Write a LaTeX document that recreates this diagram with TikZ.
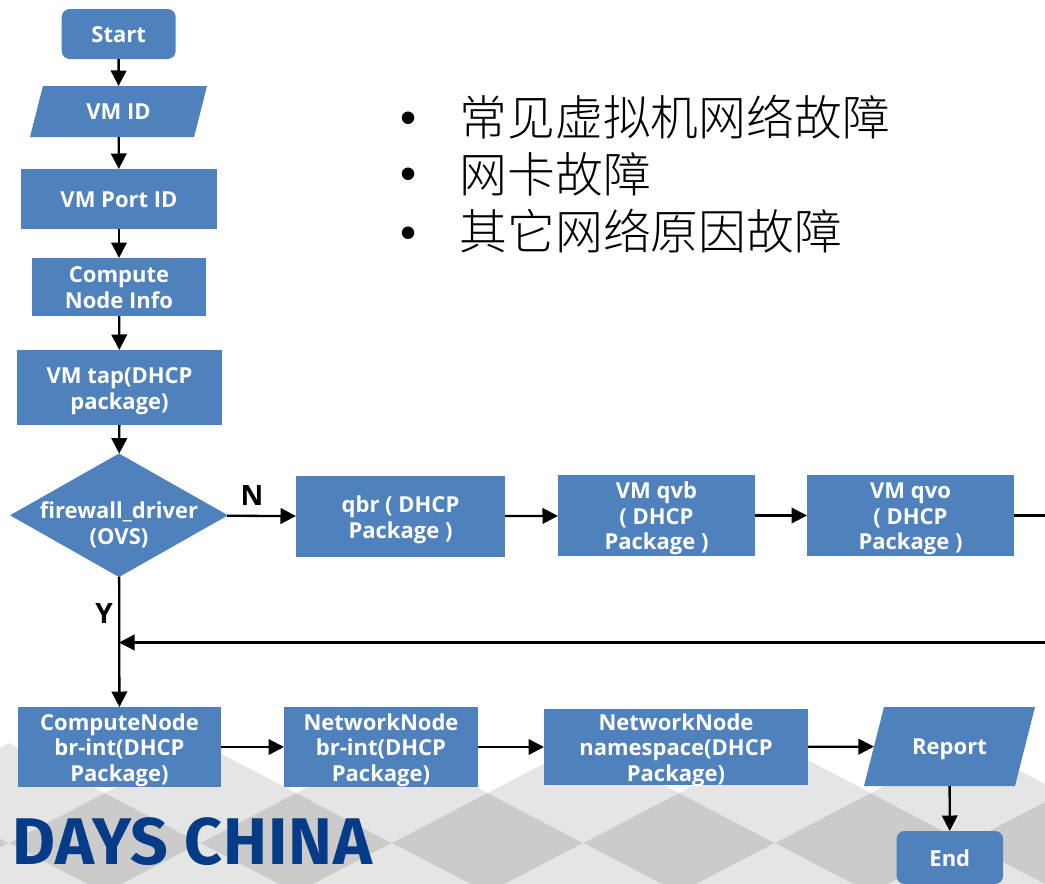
\documentclass[tikz,border=0pt]{standalone}
\usepackage{fontspec}
\setmainfont{Open Sans}
\newfontfamily\cjk{Noto Sans CJK SC Light}
\newfontfamily\bulletfont{Liberation Sans}
\newfontfamily\brandfont[LetterSpace=1.3]{Fira Sans}
\usetikzlibrary{shapes.geometric,arrows.meta}
\definecolor{boxblue}{HTML}{4F81BD}
\definecolor{lightbg}{HTML}{E5E5E5}
\definecolor{darkbg}{HTML}{CBCBCB}
\definecolor{brand}{HTML}{053B87}
\newcommand{\lft}[1]{\rule{0pt}{#1pt}}
\tikzset{
  x=1pt,y=-1pt,
  shp/.style={fill=boxblue,draw=none,text=white,inner sep=0pt,outer sep=0pt,align=center,
    font=\fontsize{22}{25.5}\selectfont\bfseries},
  bx/.style={shp,rectangle},
  term/.style={shp,rectangle,rounded corners=8pt},
  para/.style={shp,trapezium,trapezium left angle=75.8,trapezium right angle=104.2,trapezium stretches body,text height=16pt,text depth=0pt},
  dec/.style={shp,diamond,aspect=1.765,inner sep=-9.9pt},
  arr/.style={draw=black,line width=2.3pt,-{Triangle[width=15.5pt,length=15.5pt]}},
  ln/.style={draw=black,line width=2.3pt},
  mark label/.style={font=\fontsize{28}{30}\selectfont\bfseries,text=black,inner sep=0pt},
  cjkline/.style={anchor=west,inner sep=0pt,font=\fontsize{47.8}{50}\selectfont\cjk,text=black},
  dot/.style={inner sep=0pt,font=\fontsize{46}{50}\selectfont\bulletfont,text=black},
}
\begin{document}
\begin{tikzpicture}
\useasboundingbox (0,0) rectangle (1045,884);
\clip (0,0) rectangle (1045,884);
% background diamonds
\foreach \k in {-1,...,6}{
  \pgfmathsetmacro{\cx}{9+191.5*\k}
  \fill[lightbg] (\cx,743) -- (\cx+95.75,793) -- (\cx,843) -- (\cx-95.75,793) -- cycle;
  \fill[lightbg] (\cx,843) -- (\cx+95.75,893) -- (\cx,943) -- (\cx-95.75,893) -- cycle;
  \fill[darkbg] (\cx+95.75,793) -- (\cx+191.5,843) -- (\cx+95.75,893) -- (\cx,843) -- cycle;
}
\node[font=\fontsize{66}{70}\selectfont\brandfont\bfseries,text=brand,inner sep=0pt] (brandtxt) at (192.5,842) {DAYS CHINA};
% nodes
\node[term,minimum width=114,minimum height=50] (start) at (118.7,34) {\lft{17}Start};
\node[para,inner ysep=17.5pt,minimum width=177] (vmid) at (118.5,111.5) {VM ID};
\node[bx,minimum width=196,minimum height=60] (port) at (119,199) {\lft{17}VM Port ID};
\node[bx,minimum width=174,minimum height=58] (info) at (119,287) {\lft{17}Compute\\Node Info};
\node[bx,minimum width=205,minimum height=75] (tap) at (119.5,387.5) {\lft{23}VM tap(DHCP\\package)};
\node[dec,minimum width=218,minimum height=123.5] (fw) at (119,515.3) {\lft{36}firewall\_driver\\(OVS)};
\node[bx,minimum width=209,minimum height=81] (qbr) at (400.5,516.5) {\lft{23}qbr ( DHCP\\Package )};
\node[bx,minimum width=197,minimum height=81] (qvb) at (656.5,515.5) {\lft{23}VM qvb\\( DHCP\\Package )};
\node[bx,minimum width=207,minimum height=81] (qvo) at (910.5,515.5) {\lft{23}VM qvo\\( DHCP\\Package )};
\node[bx,minimum width=203,minimum height=80] (cn) at (119.5,747) {\lft{23}ComputeNode\\br-int(DHCP\\Package)};
\node[bx,minimum width=194,minimum height=80] (nn) at (381,747) {\lft{23}NetworkNode\\br-int(DHCP\\Package)};
\node[bx,inner ysep=-3pt,minimum width=264,minimum height=76] (ns) at (676,747) {\lft{23}NetworkNode\\namespace(DHCP\\Package)};
\node[para,inner ysep=31.5pt,minimum width=171] (rep) at (949.5,746.5) {Report};
\node[term,minimum width=106.5,minimum height=53] (end) at (949.8,857.5) {\lft{18}End};
\coordinate (qvoout) at (1045,515.5);
\coordinate (fbstart) at (1045,642.5);
\coordinate (fbend) at (fw.south |- fbstart);
% connectors
\draw[arr] (start) -- (vmid);
\draw[arr] (vmid) -- (port);
\draw[arr] (port) -- (info);
\draw[arr] (info) -- (tap);
\draw[arr] (tap) -- (fw);
\draw[arr] (fw) -- (qbr);
\draw[arr] (qbr) -- (qvb);
\draw[arr] (qvb) -- (qvo);
\draw[ln] (qvo) -- (qvoout);
\draw[arr] (fw) -- (cn);
\draw[arr] (fbstart) -- (fbend);
\draw[arr] (cn) -- (nn);
\draw[arr] (nn) -- (ns);
\draw[arr] (ns) -- (rep);
\draw[arr] (rep) -- (end);
% labels
\node[mark label] (nlabel) at (252,495) {N};
\node[mark label] (ylabel) at (104,613) {Y};
% Chinese list
\node[dot] (b1) at (409,123) {•};
\node[dot] (b2) at (409,179) {•};
\node[dot] (b3) at (409,238) {•};
\node[cjkline] (l1) at (459.5,117) {常见虚拟机网络故障};
\node[cjkline] (l2) at (459.5,174) {网卡故障};
\node[cjkline] (l3) at (459.5,231) {其它网络原因故障};
\end{tikzpicture}
\end{document}
